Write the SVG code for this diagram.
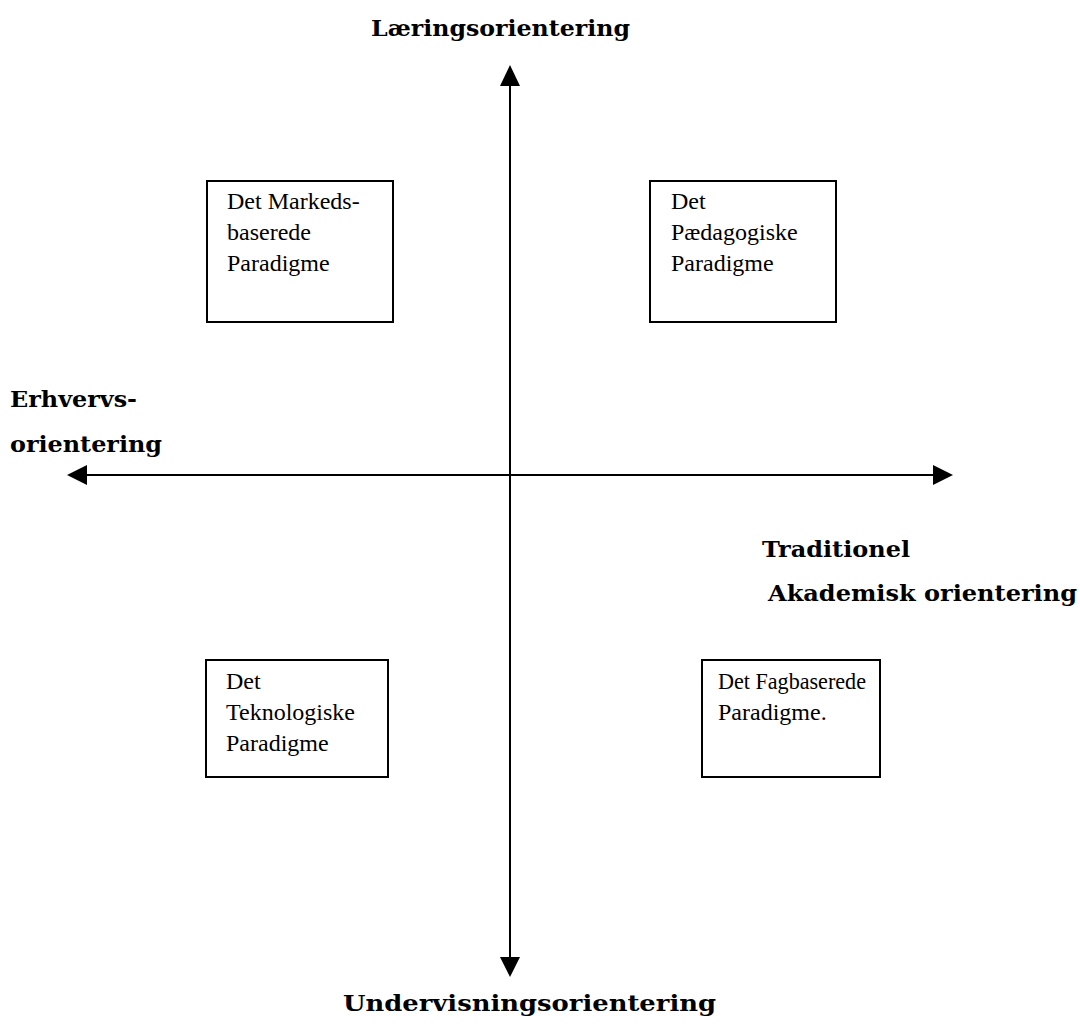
<svg xmlns="http://www.w3.org/2000/svg" width="1080" height="1027" viewBox="0 0 1080 1027">
<style>
.box{fill:#fff;stroke:#000;stroke-width:2}
.bt{font-family:"Liberation Serif","Times New Roman",serif;font-size:24px;fill:#000}
.lbl{font-family:"DejaVu Serif","Liberation Serif",serif;font-weight:bold;font-size:23px;fill:#000}
.ax{stroke:#000;stroke-width:2;fill:none}
</style>
<rect width="1080" height="1027" fill="#fff"/>
<g id="connectors">
<line class="ax" x1="510" y1="82" x2="510" y2="960"/>
<line class="ax" x1="84" y1="475" x2="936" y2="475"/>
<polygon points="510,65 500,86 520,86" fill="#000"/>
<polygon points="510,977 500,957 520,957" fill="#000"/>
<polygon points="67,475 87,465 87,485" fill="#000"/>
<polygon points="953,475 933,465 933,485" fill="#000"/>
</g>
<g id="axis-labels">
<text class="lbl" x="371" y="36" textLength="259" lengthAdjust="spacingAndGlyphs">Læringsorientering</text>
<text class="lbl" x="10" y="407" textLength="127" lengthAdjust="spacingAndGlyphs">Erhvervs-</text>
<text class="lbl" x="10" y="452" textLength="152" lengthAdjust="spacingAndGlyphs">orientering</text>
<text class="lbl" x="762" y="557" textLength="148" lengthAdjust="spacingAndGlyphs">Traditionel</text>
<text class="lbl" x="768" y="601" textLength="309" lengthAdjust="spacingAndGlyphs">Akademisk orientering</text>
<text class="lbl" x="343" y="1011" textLength="373" lengthAdjust="spacingAndGlyphs">Undervisningsorientering</text>
</g>
<g id="node-markeds">
<rect class="box" x="207" y="181" width="186" height="141"/>
<text class="bt" x="227" y="209">Det Markeds-</text>
<text class="bt" x="227" y="240">baserede</text>
<text class="bt" x="227" y="271">Paradigme</text>
</g>
<g id="node-paedagogiske">
<rect class="box" x="650" y="181" width="186" height="141"/>
<text class="bt" x="671" y="209">Det</text>
<text class="bt" x="671" y="240">Pædagogiske</text>
<text class="bt" x="671" y="271">Paradigme</text>
</g>
<g id="node-teknologiske">
<rect class="box" x="206" y="660" width="182" height="117"/>
<text class="bt" x="226" y="689">Det</text>
<text class="bt" x="226" y="720">Teknologiske</text>
<text class="bt" x="226" y="751">Paradigme</text>
</g>
<g id="node-fagbaserede">
<rect class="box" x="702" y="660" width="178" height="117"/>
<text class="bt" x="718" y="689" textLength="148" lengthAdjust="spacingAndGlyphs">Det Fagbaserede</text>
<text class="bt" x="718" y="720">Paradigme.</text>
</g>
</svg>
